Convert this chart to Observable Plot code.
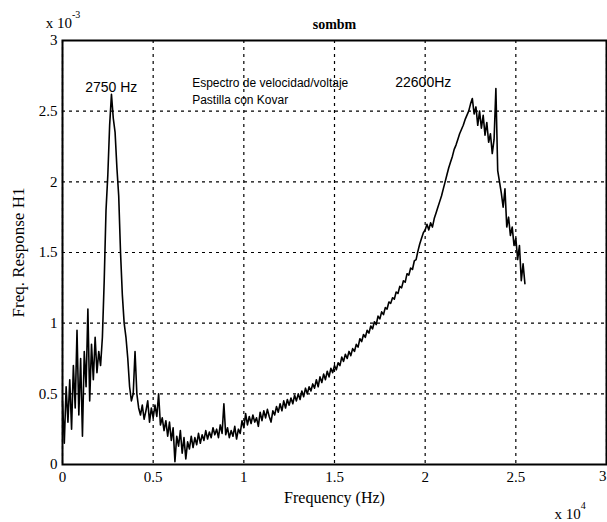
<!DOCTYPE html>
<html><head><meta charset="utf-8">
<script src="https://cdn.jsdelivr.net/npm/d3@7"></script>
<script src="https://cdn.jsdelivr.net/npm/@observablehq/plot@0.6"></script>
<style>body{margin:0;background:#fff}</style>
</head><body><div id="chart"></div>
<script>
// Frequency in units of 10^4 Hz, sampled every 0.01 starting at 0
const freqStart = 0;
const freqStep = 0.01;
// Freq. Response H1 in units of 10^-3
const response = [
0.45,0.15,0.55,0.30,0.60,0.25,0.70,0.40,0.95,0.35,0.75,0.20,0.80,0.55,1.10,0.45,0.85,0.60,0.90,0.65,
0.80,0.70,0.90,1.30,1.80,2.05,2.40,2.62,2.45,2.35,2.10,1.90,1.50,1.20,1.00,0.90,0.75,0.55,0.45,0.50,
0.80,0.50,0.40,0.35,0.42,0.32,0.38,0.45,0.30,0.40,0.33,0.42,0.34,0.50,0.28,0.33,0.24,0.31,0.20,0.30,
0.17,0.26,0.02,0.20,0.13,0.24,0.08,0.19,0.04,0.16,0.11,0.20,0.12,0.19,0.14,0.22,0.15,0.21,0.17,0.24,
0.18,0.23,0.19,0.26,0.21,0.25,0.19,0.28,0.22,0.43,0.21,0.26,0.19,0.24,0.20,0.27,0.18,0.25,0.22,0.31,
0.26,0.36,0.28,0.34,0.29,0.35,0.30,0.33,0.27,0.37,0.31,0.38,0.33,0.39,0.34,0.30,0.38,0.35,0.41,0.37,
0.43,0.38,0.45,0.40,0.46,0.42,0.47,0.43,0.49,0.45,0.50,0.46,0.52,0.48,0.54,0.50,0.55,0.52,0.57,0.54,
0.60,0.55,0.62,0.58,0.64,0.60,0.66,0.62,0.68,0.65,0.70,0.67,0.72,0.70,0.76,0.73,0.78,0.75,0.80,0.77,
0.82,0.80,0.85,0.83,0.89,0.87,0.92,0.90,0.95,0.93,0.98,0.96,1.01,0.99,1.05,1.03,1.08,1.06,1.11,1.10,
1.15,1.14,1.18,1.17,1.22,1.21,1.26,1.25,1.30,1.29,1.35,1.34,1.39,1.38,1.44,1.45,1.51,1.56,1.60,1.64,
1.66,1.70,1.66,1.71,1.68,1.74,1.78,1.82,1.86,1.90,1.95,2.00,2.05,2.10,2.14,2.18,2.23,2.26,2.30,2.34,
2.37,2.40,2.44,2.47,2.50,2.55,2.59,2.48,2.53,2.40,2.50,2.38,2.47,2.33,2.42,2.28,2.34,2.20,2.30,2.66,
2.08,2.00,1.92,1.82,1.95,1.68,1.75,1.62,1.68,1.55,1.60,1.45,1.55,1.30,1.42,1.28
];
const xTicks = [0, 0.5, 1, 1.5, 2, 2.5, 3];
const yTicks = [0, 0.5, 1, 1.5, 2, 2.5, 3];
const xTickLabels = ["0", "0.5", "1", "1.5", "2", "2.5", "3"];
const yTickLabels = ["0", "0.5", "1", "1.5", "2", "2.5", "3"];
const peakNotes = [
  {x: 0.125, y: 2.67, text: "2750 Hz"},
  {x: 1.835, y: 2.70, text: "22600Hz"}
];
const descNotes = [
  {x: 0.715, y: 2.70, text: "Espectro de velocidad/voltaje"},
  {x: 0.715, y: 2.575, text: "Pastilla con Kovar"}
];

const data = response.map((v, i) => ({f: freqStart + i * freqStep, h: v}));
const xInner = xTicks.slice(0, -1);
const xLast = [{x: xTicks[xTicks.length - 1], label: xTickLabels[xTickLabels.length - 1]}];

const chart = Plot.plot({
  width: 607, height: 522,
  marginLeft: 62, marginRight: 1, marginTop: 40, marginBottom: 58,
  style: {fontFamily: "Liberation Serif", fontSize: "14px", color: "#000", background: "#fff"},
  x: {domain: [0, 3]},
  y: {domain: [0, 3]},
  marks: [
    Plot.gridX(xTicks, {stroke: "#000", strokeOpacity: 1, strokeWidth: 1.2, strokeDasharray: "3,4"}),
    Plot.gridY(yTicks, {stroke: "#000", strokeOpacity: 1, strokeWidth: 1.2, strokeDasharray: "3,4"}),
    Plot.line(data, {x: "f", y: "h", stroke: "#000", strokeWidth: 1.6}),
    Plot.frame({stroke: "#000", strokeWidth: 2}),
    Plot.axisX(xInner, {tickSize: 0, tickPadding: 7, tickFormat: (d, i) => xTickLabels[i], fontSize: 15, label: null}),
    Plot.text(xLast, {x: "x", frameAnchor: "bottom", dy: 16, text: "label", textAnchor: "end", fontSize: 15}),
    Plot.axisY(yTicks, {tickSize: 0, tickPadding: 5, tickFormat: (d, i) => yTickLabels[i], fontSize: 15, label: null}),
    Plot.text(peakNotes, {x: "x", y: "y", text: "text", textAnchor: "start", fontFamily: "Liberation Sans", fontSize: 14, letterSpacing: 0.6, fill: "#000"}),
    Plot.text(descNotes, {x: "x", y: "y", text: "text", textAnchor: "start", fontFamily: "Liberation Sans", fontSize: 12, fill: "#000"}),
    Plot.text(["sombm"], {frameAnchor: "top", dy: -21, fontSize: 14, fontWeight: "bold"}),
    Plot.text(["Frequency (Hz)"], {frameAnchor: "bottom", dy: 38, fontSize: 16}),
    Plot.text(["Freq. Response H1"], {frameAnchor: "left", dx: -44, rotate: -90, textAnchor: "middle", fontSize: 17})
  ]
});
const svg = d3.select(chart);
// exponent labels
const e1 = svg.append("text").attr("x", 63).attr("y", 28).attr("font-size", 15).attr("font-family", "Liberation Serif");
e1.append("tspan").text("x 10");
e1.append("tspan").attr("dy", -10).attr("font-size", 10).text("-3");
const e2 = svg.append("text").attr("x", 570).attr("y", 519).attr("font-size", 15).attr("font-family", "Liberation Serif");
e2.append("tspan").text("x 10");
e2.append("tspan").attr("dy", -10).attr("font-size", 10).text("4");
document.getElementById("chart").appendChild(chart);
</script>
</body></html>
